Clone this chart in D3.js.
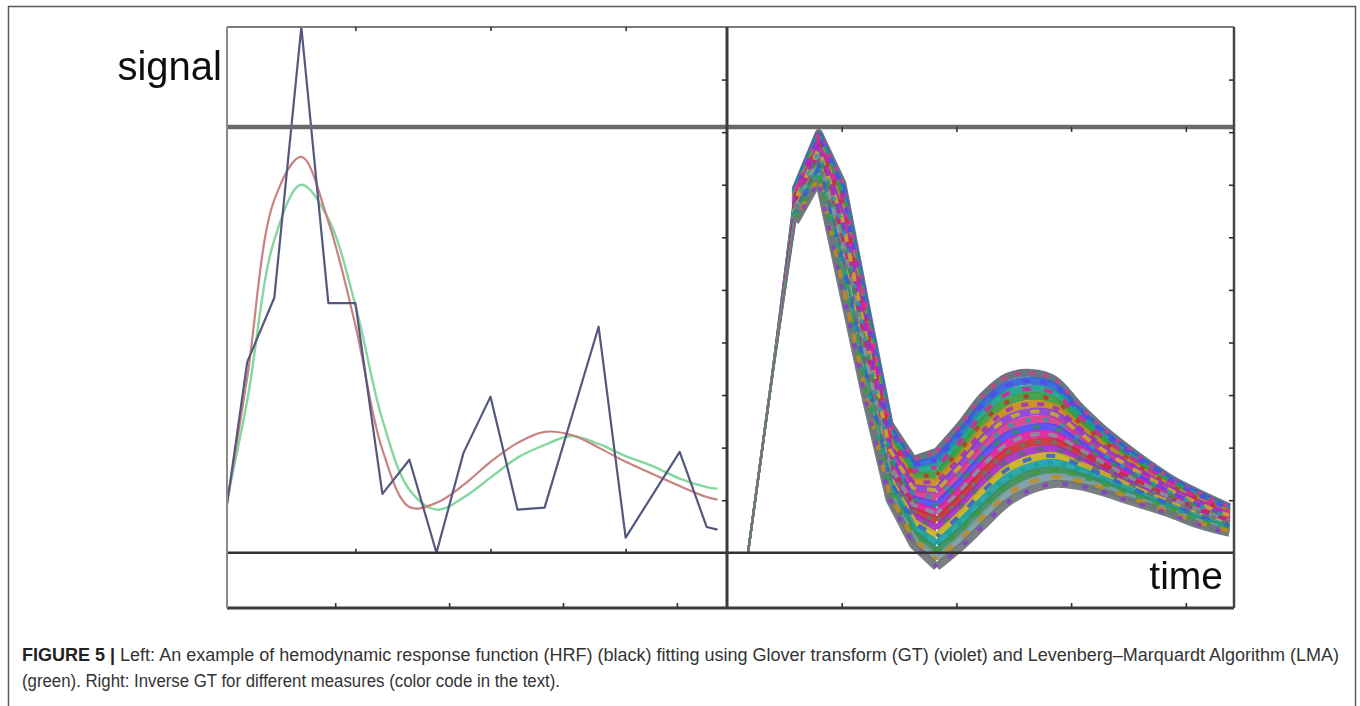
<!DOCTYPE html>
<html>
<head>
<meta charset="utf-8">
<script src="https://cdnjs.cloudflare.com/ajax/libs/d3/7.8.5/d3.min.js"></script>
<style>
  body { margin: 0; background: #fff; }
  svg { display: block; font-family: "Liberation Sans", Arial, sans-serif; }
</style>
</head>
<body>
<div id="figure"></div>
<script>
// ---- data (time in samples, signal in tick units) ----

// left panel: measured HRF (jagged line)
const hrfTimes  = [-2.75, -2, -1, 0, 1, 2, 3, 4, 5, 6, 7, 8, 9, 11, 12, 14, 15, 15.4];
const hrfSignal = [0.91, 3.63, 4.85, 10.0, 4.75, 4.75, 1.12, 1.77, 0.0, 1.90, 2.97, 0.82, 0.86, 4.30, 0.29, 1.92, 0.49, 0.44];

// left panel: fitted curves
const fitTimes = [-2.75, -2, -1, 0, 1, 2, 3, 4, 5, 6, 7, 8, 9, 10, 11, 12, 13, 14, 15, 15.4];
const gtFit    = [0.95, 3.34, 6.71, 7.53, 6.30, 4.33, 1.96, 0.87, 0.95, 1.29, 1.73, 2.09, 2.30, 2.24, 2.00, 1.73, 1.50, 1.27, 1.06, 1.01];
const lmaFit   = [1.00, 2.90, 5.95, 7.00, 6.35, 4.71, 2.53, 1.20, 0.82, 1.05, 1.43, 1.81, 2.05, 2.22, 2.07, 1.84, 1.65, 1.41, 1.25, 1.22];

// right panel: inverse GT for different measures
const inverseTimes = [0, 1, 2, 3, 4, 5, 6, 7, 8, 9, 10, 11, 12, 13, 14, 15, 16, 17, 18, 19, 20, 20.4];
const inverseCurves = [
  [0, 3.29, 6.90, 7.98, 7.03, 4.71, 2.45, 1.77, 1.92, 2.43, 3.00, 3.35, 3.42, 3.29, 2.81, 2.38, 2.02, 1.69, 1.39, 1.16, 0.95, 0.87],
  [0, 3.27, 6.86, 7.92, 6.89, 4.59, 2.35, 1.66, 1.77, 2.27, 2.83, 3.19, 3.27, 3.16, 2.71, 2.30, 1.95, 1.64, 1.35, 1.12, 0.91, 0.84],
  [0, 3.31, 6.82, 7.86, 6.76, 4.47, 2.26, 1.55, 1.63, 2.12, 2.67, 3.03, 3.12, 3.03, 2.61, 2.22, 1.89, 1.58, 1.30, 1.08, 0.88, 0.80],
  [0, 3.28, 6.78, 7.80, 6.62, 4.35, 2.16, 1.45, 1.48, 1.96, 2.51, 2.87, 2.98, 2.89, 2.50, 2.14, 1.82, 1.53, 1.26, 1.04, 0.84, 0.77],
  [0, 3.30, 6.74, 7.74, 6.49, 4.23, 2.07, 1.34, 1.34, 1.81, 2.34, 2.71, 2.83, 2.76, 2.40, 2.05, 1.75, 1.47, 1.21, 1.00, 0.81, 0.74],
  [0, 3.26, 6.70, 7.68, 6.35, 4.11, 1.97, 1.23, 1.19, 1.65, 2.18, 2.55, 2.68, 2.63, 2.30, 1.97, 1.68, 1.42, 1.17, 0.96, 0.77, 0.71],
  [0, 3.29, 6.66, 7.62, 6.22, 3.99, 1.87, 1.12, 1.04, 1.50, 2.01, 2.39, 2.53, 2.50, 2.19, 1.89, 1.62, 1.36, 1.12, 0.92, 0.74, 0.67],
  [0, 3.32, 6.62, 7.56, 6.08, 3.87, 1.78, 1.01, 0.90, 1.34, 1.85, 2.23, 2.38, 2.37, 2.09, 1.81, 1.55, 1.31, 1.08, 0.88, 0.70, 0.64],
  [0, 3.27, 6.57, 7.51, 5.95, 3.75, 1.68, 0.91, 0.75, 1.19, 1.68, 2.07, 2.24, 2.23, 1.99, 1.73, 1.48, 1.25, 1.03, 0.83, 0.67, 0.61],
  [0, 3.30, 6.53, 7.45, 5.81, 3.63, 1.59, 0.80, 0.61, 1.03, 1.52, 1.91, 2.09, 2.10, 1.89, 1.65, 1.41, 1.20, 0.99, 0.79, 0.63, 0.58],
  [0, 3.28, 6.49, 7.39, 5.68, 3.51, 1.49, 0.69, 0.46, 0.88, 1.35, 1.75, 1.94, 1.97, 1.78, 1.57, 1.35, 1.14, 0.94, 0.75, 0.60, 0.54],
  [0, 3.31, 6.45, 7.33, 5.54, 3.39, 1.39, 0.58, 0.31, 0.72, 1.19, 1.59, 1.79, 1.84, 1.68, 1.49, 1.28, 1.09, 0.90, 0.71, 0.56, 0.51],
  [0, 3.29, 6.41, 7.27, 5.41, 3.27, 1.30, 0.47, 0.17, 0.57, 1.02, 1.43, 1.64, 1.71, 1.58, 1.40, 1.21, 1.03, 0.85, 0.67, 0.53, 0.48],
  [0, 3.27, 6.37, 7.21, 5.27, 3.15, 1.20, 0.37, 0.02, 0.41, 0.86, 1.27, 1.50, 1.57, 1.47, 1.32, 1.14, 0.98, 0.81, 0.63, 0.49, 0.45],
  [0, 3.30, 6.33, 7.15, 5.14, 3.03, 1.11, 0.26, -0.12, 0.26, 0.70, 1.11, 1.35, 1.44, 1.37, 1.24, 1.08, 0.92, 0.76, 0.59, 0.46, 0.41],
  [0, 3.28, 6.29, 7.09, 5.00, 2.91, 1.01, 0.15, -0.27, 0.10, 0.53, 0.95, 1.20, 1.31, 1.27, 1.16, 1.01, 0.87, 0.72, 0.55, 0.42, 0.38]
];
const inverseColors = ['#5b6a78', '#2f62d6', '#1b9f8c', '#3c9a3c', '#c58a1a', '#8a3cd0', '#d23c8a', '#5148f0',
                       '#e0209a', '#c43030', '#a030c0', '#c8b020', '#20a0a8', '#3a8a5a', '#7a9aa2', '#6c7478'];
// samples 0-2 are the shared thin rise, up to 8 the sampled fall and dip are straight, then the bump is smooth
const riseUntil = 2;
const sharpUntil = 8;

// ticks
const yTicks = [1, 2, 3, 4, 5, 6, 7, 8, 9];
const topTicksLeft = [2, 7, 12];
const bottomTicksLeft = [0, 1, 2, 3];
const bottomTicksRight = [1, 2, 3, 4];
const refLevel = 8.1;

const captionBold = 'FIGURE 5 |';
const captionLine1 = ' Left: An example of hemodynamic response function (HRF) (black) fitting using Glover transform (GT) (violet) and Levenberg\u2013Marquardt Algorithm (LMA)';
const captionLine2 = '(green). Right: Inverse GT for different measures (color code in the text).';

class HrfFigure {

  constructor(_config) {
    this.config = {
      parentElement: _config.parentElement,
      width: _config.width || 1360,
      height: _config.height || 706
    }
    this.initVis();
  }

  initVis() {
    let vis = this;

    // panel geometry
    vis.top = 27;
    vis.bottom = 608;
    vis.left = 227;
    vis.mid = 727;
    vis.right = 1234;

    vis.y = d3.scaleLinear().domain([-1.05, 10]).range([vis.bottom, vis.top]);
    vis.xLeft = d3.scaleLinear().domain([-2.75, 15.75]).range([vis.left, vis.mid]);
    vis.xRight = d3.scaleLinear().domain([-0.89, 20.6]).range([vis.mid, vis.right]);

    // the bottom axes use their own spacing
    vis.xBottomLeft = d3.scaleLinear().domain([-0.95, 3.44]).range([vis.left, vis.mid]);
    vis.xBottomRight = d3.scaleLinear().domain([0, 4.42]).range([vis.mid, vis.right]);

    vis.svg = d3.select(vis.config.parentElement).append('svg')
      .attr('width', vis.config.width)
      .attr('height', vis.config.height);

    vis.svg.append('defs').append('filter')
      .attr('id', 'soft')
      .append('feGaussianBlur')
      .attr('stdDeviation', 0.6);

    vis.renderVis();
  }

  renderVis() {
    let vis = this;

    // outer figure box
    vis.svg.append('rect')
      .attr('x', 8.5).attr('y', 6.5)
      .attr('width', 1347).attr('height', 720)
      .attr('fill', 'none')
      .attr('stroke', '#5a5a5a')
      .attr('stroke-width', 1.5);

    let plot = vis.svg.append('g').attr('filter', 'url(#soft)');

    //left panel curves
    let lineL = d3.line()
      .x(d => vis.xLeft(d[0]))
      .y(d => vis.y(d[1]));

    plot.append('path')
      .attr('d', lineL.curve(d3.curveCatmullRom)(d3.zip(fitTimes, lmaFit)))
      .attr('fill', 'none').attr('stroke', '#84d79e').attr('stroke-width', 2.4);

    plot.append('path')
      .attr('d', lineL.curve(d3.curveCatmullRom)(d3.zip(fitTimes, gtFit)))
      .attr('fill', 'none').attr('stroke', '#c98282').attr('stroke-width', 2.2);

    plot.append('path')
      .attr('d', lineL.curve(d3.curveLinear)(d3.zip(hrfTimes, hrfSignal)))
      .attr('fill', 'none').attr('stroke', '#55587e').attr('stroke-width', 2.2)
      .attr('stroke-linejoin', 'round');

    //right panel family of curves
    let sharpLine = d3.line()
      .x(d => vis.xRight(d[0]))
      .y(d => vis.y(d[1]));
    let smoothLine = d3.line()
      .x(d => vis.xRight(d[0]))
      .y(d => vis.y(d[1]))
      .curve(d3.curveCatmullRom.alpha(0.5));
    let risePath = vals => sharpLine(d3.zip(inverseTimes, vals).slice(0, riseUntil + 1));
    let bodyPath = vals => {
      let pts = d3.zip(inverseTimes, vals);
      return sharpLine(pts.slice(riseUntil, sharpUntil + 1)) + smoothLine(pts.slice(sharpUntil));
    };

    plot.selectAll('.inverse-rise')
      .data(inverseCurves)
      .join('path')
      .attr('class', 'inverse-rise')
      .attr('d', d => risePath(d))
      .attr('fill', 'none')
      .attr('stroke', (d, i) => inverseColors[i])
      .attr('stroke-width', 2.2);

    plot.selectAll('.inverse')
      .data(inverseCurves)
      .join('path')
      .attr('class', 'inverse')
      .attr('d', d => bodyPath(d))
      .attr('fill', 'none')
      .attr('stroke', (d, i) => inverseColors[i])
      .attr('stroke-width', 8)
      .attr('stroke-linejoin', 'round')
      .attr('stroke-opacity', 0.92);

    // second pass, dashed in other colours, for the mottled look of overlapping measures
    plot.selectAll('.inverse-over')
      .data(inverseCurves)
      .join('path')
      .attr('class', 'inverse-over')
      .attr('d', d => bodyPath(d))
      .attr('fill', 'none')
      .attr('stroke', (d, i) => inverseColors[(i + 6) % inverseColors.length])
      .attr('stroke-width', 4)
      .attr('stroke-dasharray', (d, i) => `${5 + (i % 3) * 2} ${9 + (i % 4) * 2}`)
      .attr('stroke-dashoffset', (d, i) => i * 7)
      .attr('stroke-opacity', 0.85);

    // frame and reference lines
    let hLine = (yv, color, w) => plot.append('line')
      .attr('x1', vis.left).attr('x2', vis.right)
      .attr('y1', yv).attr('y2', yv)
      .attr('stroke', color).attr('stroke-width', w);
    let vLine = (xv, color, w) => plot.append('line')
      .attr('x1', xv).attr('x2', xv)
      .attr('y1', vis.top).attr('y2', vis.bottom)
      .attr('stroke', color).attr('stroke-width', w);

    hLine(vis.top, '#7a7a7a', 2);
    hLine(vis.y(refLevel), '#6a6a6a', 4.5);
    hLine(vis.y(0), '#333', 2.6);
    hLine(vis.bottom, '#3a3a3a', 3);
    vLine(vis.left, '#8a8a8a', 2);
    vLine(vis.mid, '#3a3a3a', 3);
    vLine(vis.right, '#444', 2.5);

    // ticks
    let styleTicks = g => {
      g.select('.domain').remove();
      g.selectAll('.tick line').attr('stroke', '#333').attr('stroke-width', 1.6);
    };

    plot.append('g')
      .attr('transform', `translate(0,${vis.top})`)
      .call(d3.axisBottom(vis.xLeft).tickValues(topTicksLeft).tickSize(4).tickSizeOuter(0).tickFormat(''))
      .call(styleTicks);

    plot.append('g')
      .attr('transform', `translate(0,${vis.y(0)})`)
      .call(d3.axisTop(vis.xLeft).tickValues(topTicksLeft).tickSize(4).tickSizeOuter(0).tickFormat(''))
      .call(styleTicks);

    plot.append('g')
      .attr('transform', `translate(0,${vis.bottom})`)
      .call(d3.axisTop(vis.xBottomLeft).tickValues(bottomTicksLeft).tickSize(5).tickSizeOuter(0).tickFormat(''))
      .call(styleTicks);

    plot.append('g')
      .attr('transform', `translate(0,${vis.bottom})`)
      .call(d3.axisTop(vis.xBottomRight).tickValues(bottomTicksRight).tickSize(5).tickSizeOuter(0).tickFormat(''))
      .call(styleTicks);

    plot.append('g')
      .attr('transform', `translate(0,${vis.y(refLevel)})`)
      .call(d3.axisBottom(vis.xBottomRight).tickValues(bottomTicksRight).tickSize(5).tickSizeOuter(0).tickFormat(''))
      .call(styleTicks);

    [vis.mid, vis.right].forEach(xv => {
      plot.append('g')
        .attr('transform', `translate(${xv},0)`)
        .call(d3.axisLeft(vis.y).tickValues(yTicks).tickSize(5).tickSizeOuter(0).tickFormat(''))
        .call(styleTicks);
    });

    // axis words
    plot.append('text')
      .attr('x', 222).attr('y', 80)
      .attr('text-anchor', 'end')
      .attr('font-size', 40)
      .attr('fill', '#111')
      .text('signal');

    plot.append('text')
      .attr('x', 1223).attr('y', 589)
      .attr('text-anchor', 'end')
      .attr('font-size', 39)
      .attr('fill', '#111')
      .text('time');

    //caption, squeezed to the condensed width of the original
    let cap1 = vis.svg.append('text')
      .attr('x', 22).attr('y', 661)
      .attr('font-size', 17.5)
      .attr('fill', '#333')
      .attr('textLength', 1317)
      .attr('lengthAdjust', 'spacingAndGlyphs');
    cap1.append('tspan').attr('font-weight', 'bold').attr('fill', '#222').text(captionBold);
    cap1.append('tspan').text(captionLine1);

    vis.svg.append('text')
      .attr('x', 22).attr('y', 687)
      .attr('font-size', 17.5)
      .attr('fill', '#333')
      .attr('textLength', 538)
      .attr('lengthAdjust', 'spacingAndGlyphs')
      .text(captionLine2);
  }
}

new HrfFigure({ parentElement: '#figure' });
</script>
</body>
</html>
